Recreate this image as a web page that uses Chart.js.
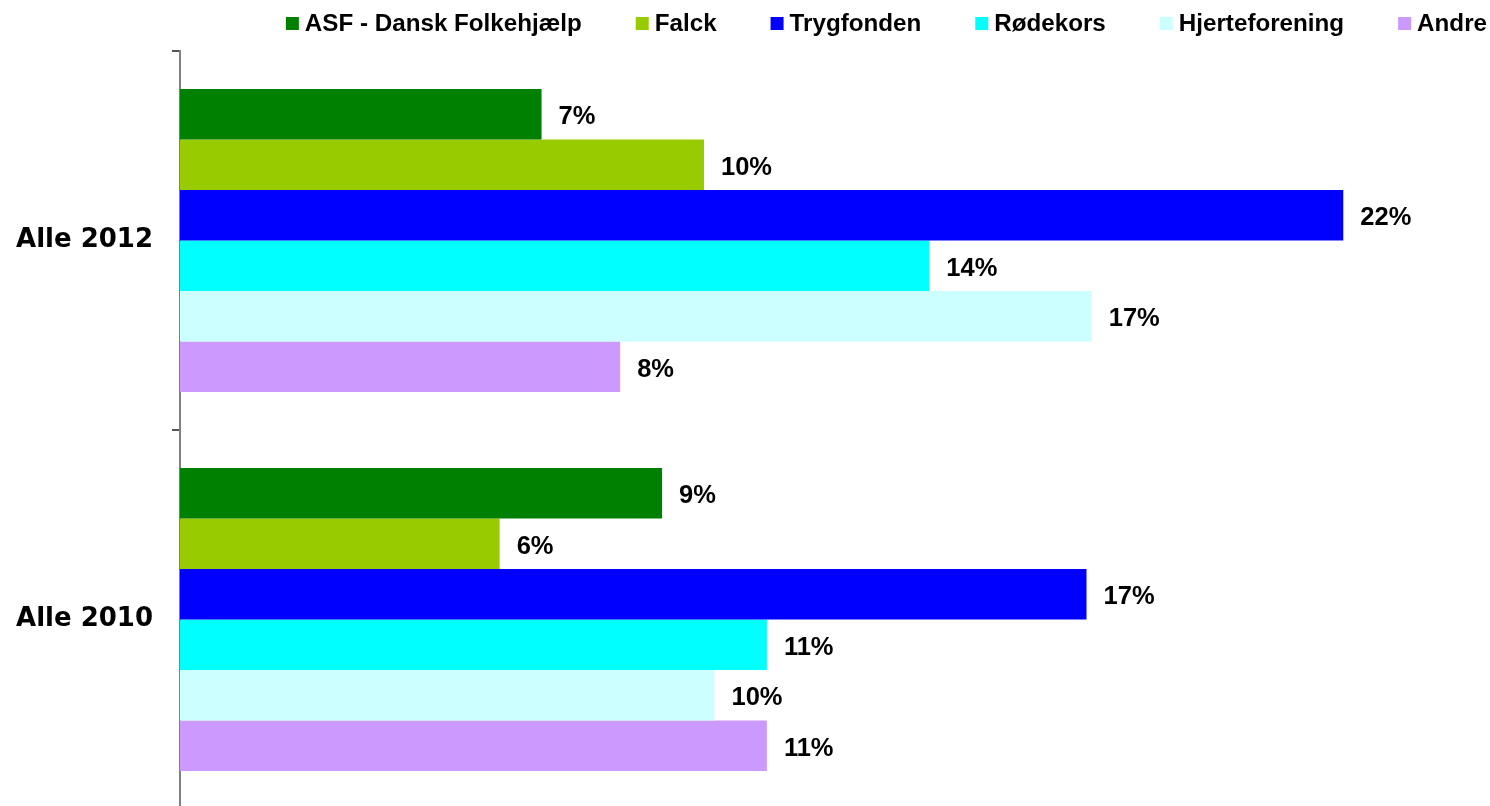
<!DOCTYPE html>
<html>
<head>
<meta charset="utf-8">
<script src="https://cdn.jsdelivr.net/npm/chart.js@4"></script>
<style>
  html, body { margin: 0; padding: 0; background: #fff; overflow: hidden; }
  #wrap { width: 1490px; height: 810px; }
</style>
</head>
<body>
<div id="wrap"><canvas id="myChart"></canvas></div>
<script>
let categories = ["Alle 2012", "Alle 2010"];
let seriesNames = ["ASF - Dansk Folkehjælp", "Falck", "Trygfonden", "Rødekors", "Hjerteforening", "Andre"];
let seriesColors = ["#008000", "#99cc00", "#0000ff", "#00ffff", "#ccffff", "#cc99ff"];

// percent per category (2012, 2010)
let asf = [6.9, 9.2];
let falck = [10.0, 6.1];
let trygfonden = [22.2, 17.3];
let roedekors = [14.3, 11.2];
let hjerteforening = [17.4, 10.2];
let andre = [8.4, 11.2];

let seriesValues = [asf, falck, trygfonden, roedekors, hjerteforening, andre];

let datasets = [];
for (let i = 0; i < seriesNames.length; i++) {
  datasets.push({
    label: seriesNames[i],
    data: seriesValues[i],
    backgroundColor: seriesColors[i],
    borderWidth: 0,
    barPercentage: 1.0,
    categoryPercentage: 0.8,
  });
}

// value labels to the right of each bar
let valueLabels = {
  id: "valueLabels",
  afterDatasetsDraw(chart) {
    let ctx = chart.ctx;
    ctx.save();
    ctx.font = "bold 25.5px 'Liberation Sans', Arial, sans-serif";
    ctx.fillStyle = "#000";
    ctx.textAlign = "left";
    ctx.textBaseline = "middle";
    chart.data.datasets.forEach((ds, i) => {
      let meta = chart.getDatasetMeta(i);
      meta.data.forEach((bar, j) => {
        ctx.fillText(Math.round(ds.data[j]) + "%", bar.x + 17, bar.y + 3);
      });
    });
    ctx.restore();
  },
};

// legend row at the top, right aligned
let topLegend = {
  id: "topLegend",
  afterDraw(chart) {
    let ctx = chart.ctx;
    ctx.save();
    ctx.font = "bold 24.2px 'Liberation Sans', Arial, sans-serif";
    ctx.textBaseline = "middle";
    ctx.textAlign = "left";
    let box = 13;
    let gap = 6;
    let spacing = 54;
    let widths = chart.data.datasets.map((ds) => ctx.measureText(ds.label).width);
    let total = 0;
    for (let i = 0; i < widths.length; i++) {
      total += box + gap + widths[i];
    }
    total += spacing * (widths.length - 1);
    let x = 1487 - total;
    chart.data.datasets.forEach((ds, i) => {
      ctx.fillStyle = ds.backgroundColor;
      ctx.fillRect(x, 17, box, box);
      ctx.fillStyle = "#000";
      ctx.fillText(ds.label, x + box + gap, 24);
      x += box + gap + widths[i] + spacing;
    });
    ctx.restore();
  },
};

let ctx = document.getElementById("myChart").getContext("2d");
let chart = new Chart(ctx, {
  type: "bar",
  data: {
    labels: categories,
    datasets: datasets,
  },
  options: {
    indexAxis: "y",
    responsive: true,
    maintainAspectRatio: false,
    animation: false,
    layout: {
      padding: { top: 51, right: 0, bottom: 1, left: 0 },
    },
    plugins: {
      legend: { display: false },
      tooltip: { enabled: false },
    },
    scales: {
      x: {
        display: false,
        min: 0,
        max: 25,
      },
      y: {
        afterFit: (scale) => {
          scale.width = 180;
          scale.paddingTop = 0;
          scale.paddingBottom = 0;
        },
        border: { color: "#808080", width: 2 },
        grid: {
          drawOnChartArea: false,
          offset: true,
          tickLength: 8,
          color: "#555",
          lineWidth: 2,
        },
        ticks: {
          padding: 19,
          color: "#000",
          font: { family: "'DejaVu Sans', Verdana, sans-serif", weight: "bold", size: 26 },
        },
      },
    },
  },
  plugins: [valueLabels, topLegend],
});
</script>
</body>
</html>
